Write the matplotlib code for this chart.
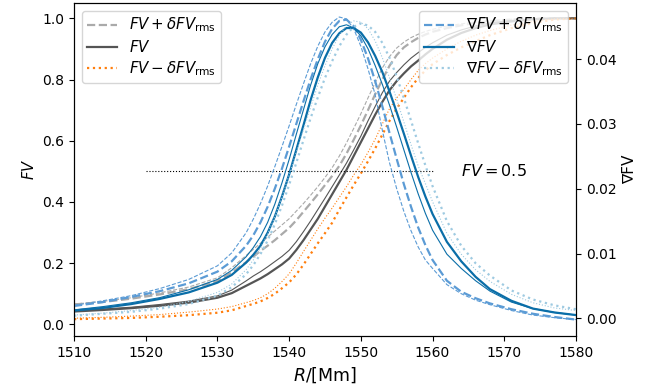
import matplotlib
matplotlib.use("Agg")
import matplotlib.pyplot as plt

# radius grid [Mm]
R = [1510, 1514, 1518, 1522, 1526, 1530, 1532, 1534, 1535, 1536, 1537, 1538, 1539, 1540,
     1541, 1542, 1543, 1544, 1545, 1546, 1547, 1548, 1549, 1550, 1551, 1552, 1553, 1554,
     1555, 1556, 1557, 1558, 1559, 1560, 1562, 1564, 1566, 1568, 1571, 1574, 1577, 1580]

# filling value: first set (thick lines)
fv = [.042, .047, .053, .061, .071, .087, .102, .126, .138, .150, .164, .180, .196, .215,
      .243, .275, .310, .345, .385, .425, .465, .505, .550, .595, .640, .685, .727, .765,
      .795, .820, .843, .862, .882, .900, .930, .952, .968, .980, .990, .997, 1.0, 1.0]
fv_hi = [.065, .073, .084, .098, .115, .142, .170, .203, .221, .240, .257, .275, .295, .315,
         .340, .368, .396, .425, .455, .485, .518, .558, .603, .650, .700, .752, .800, .845,
         .880, .905, .922, .936, .947, .956, .968, .977, .985, .991, .996, .999, 1.0, 1.0]
fv_lo = [.017, .019, .021, .025, .030, .038, .046, .060, .067, .075, .086, .100, .118, .137,
         .163, .195, .230, .265, .298, .332, .375, .415, .455, .493, .533, .575, .620, .665,
         .705, .740, .775, .805, .830, .850, .880, .905, .925, .945, .968, .985, .996, 1.0]
# filling value: second set (thin lines)
fv2 = [.045, .050, .056, .065, .076, .093, .112, .142, .158, .172, .188, .205, .222, .242,
       .270, .303, .338, .375, .412, .450, .488, .527, .570, .615, .665, .712, .757, .795,
       .823, .848, .870, .888, .905, .920, .945, .962, .975, .985, .993, .998, 1.0, 1.0]
fv2_hi = [.066, .075, .087, .103, .122, .152, .185, .225, .245, .265, .285, .305, .325, .345,
          .370, .395, .422, .450, .480, .512, .550, .593, .640, .688, .740, .790, .838, .875,
          .903, .922, .937, .948, .957, .964, .975, .982, .988, .992, .997, .999, 1.0, 1.0]
fv2_lo = [.020, .023, .027, .032, .040, .050, .058, .071, .078, .087, .100, .118, .140, .165,
          .200, .238, .275, .312, .347, .380, .415, .450, .488, .522, .562, .605, .655, .705,
          .740, .768, .800, .830, .852, .870, .900, .925, .945, .960, .978, .990, .998, 1.0]

# gradient of filling value: first set
grad = [.0012, .0016, .0022, .0030, .0040, .0055, .0067, .0086, .0098, .0112, .0132, .0157, .0188, .0222,
        .0260, .0298, .0337, .0372, .0402, .0425, .0440, .0448, .0448, .0441, .0426, .0405, .0380, .0350,
        .0318, .0285, .0251, .0218, .0188, .0161, .0118, .0088, .0064, .0045, .0027, .0015, .0009, .0005]
grad_hi = [.0019, .0025, .0033, .0042, .0054, .0072, .0088, .0112, .0128, .0148, .0172, .0200, .0231, .0265,
           .0300, .0335, .0369, .0400, .0427, .0447, .0459, .0461, .0451, .0430, .0401, .0366, .0327, .0286,
           .0246, .0207, .0172, .0140, .0113, .0090, .0058, .0041, .0031, .0023, .0014, .0007, .0002, -.0002]
grad_lo = [.0004, .0007, .0010, .0015, .0022, .0035, .0048, .0068, .0082, .0099, .0120, .0145, .0174, .0206,
           .0240, .0275, .0309, .0341, .0371, .0397, .0420, .0438, .0450, .0455, .0452, .0442, .0425, .0402,
           .0373, .0340, .0305, .0270, .0236, .0204, .0150, .0112, .0085, .0066, .0043, .0029, .0020, .0014]
# gradient of filling value: second set
grad2 = [.0013, .0018, .0024, .0032, .0044, .0060, .0074, .0095, .0109, .0126, .0148, .0176, .0209, .0245,
         .0284, .0322, .0360, .0393, .0419, .0438, .0450, .0453, .0448, .0436, .0416, .0390, .0361, .0329,
         .0295, .0260, .0225, .0192, .0162, .0136, .0099, .0077, .0058, .0042, .0025, .0015, .0009, .0005]
grad2_hi = [.0020, .0027, .0035, .0046, .0060, .0081, .0101, .0132, .0153, .0177, .0204, .0234, .0265, .0297,
            .0330, .0362, .0393, .0420, .0442, .0457, .0465, .0462, .0447, .0420, .0385, .0345, .0290, .0240,
            .0200, .0165, .0135, .0110, .0090, .0077, .0052, .0038, .0028, .0021, .0012, .0005, .0001, -.0002]
grad2_lo = [.0005, .0008, .0012, .0017, .0026, .0040, .0053, .0075, .0090, .0108, .0130, .0157, .0188, .0221,
            .0256, .0291, .0326, .0360, .0390, .0416, .0437, .0452, .0459, .0457, .0447, .0428, .0402, .0371,
            .0338, .0303, .0268, .0235, .0208, .0180, .0131, .0099, .0075, .0057, .0037, .0024, .0016, .0012]

level_x = [1520, 1560]
level = 0.5

C_GRAY_HI = "#aaaaaa"
C_GRAY = "#555555"
C_ORANGE = "#ff7f0e"
C_BLUE_HI = "#5b9bd5"
C_BLUE = "#0a6ea8"
C_BLUE_LO = "#9ecae1"

fig = plt.figure(figsize=(6.59, 3.87), dpi=100)
ax = fig.add_axes([0.1123, 0.1318, 0.7617, 0.8604])
ax2 = ax.twinx()

lw_thick, lw_thin = 1.6, 0.8

ax.plot(R, fv_hi, ls="--", color=C_GRAY_HI, lw=lw_thick, label=r"$FV + \delta FV_{\rm rms}$")
ax.plot(R, fv, ls="-", color=C_GRAY, lw=lw_thick, label=r"$FV$")
ax.plot(R, fv_lo, ls=":", color=C_ORANGE, lw=lw_thick, label=r"$FV - \delta FV_{\rm rms}$")
ax.plot(R, fv2_hi, ls="--", color=C_GRAY_HI, lw=lw_thin)
ax.plot(R, fv2, ls="-", color=C_GRAY, lw=lw_thin)
ax.plot(R, fv2_lo, ls=":", color=C_ORANGE, lw=lw_thin)
ax.hlines(level, level_x[0], level_x[1], colors="k", linestyles=":", lw=0.8)
ax.text(1564, level, r"$FV = 0.5$", va="center", ha="left", fontsize=11.5)

ax2.plot(R, grad_hi, ls="--", color=C_BLUE_HI, lw=lw_thick, label=r"$\nabla FV + \delta FV_{\rm rms}$")
ax2.plot(R, grad, ls="-", color=C_BLUE, lw=lw_thick, label=r"$\nabla FV$")
ax2.plot(R, grad_lo, ls=":", color=C_BLUE_LO, lw=lw_thick, label=r"$\nabla FV - \delta FV_{\rm rms}$")
ax2.plot(R, grad2_hi, ls="--", color=C_BLUE_HI, lw=lw_thin)
ax2.plot(R, grad2, ls="-", color=C_BLUE, lw=lw_thin)
ax2.plot(R, grad2_lo, ls=":", color=C_BLUE_LO, lw=lw_thin)

ax.set_xlim(1510, 1580)
ax.set_ylim(-0.038, 1.05)
ax2.set_ylim(-0.00273, 0.04866)
ax2.set_yticks([0.0, 0.01, 0.02, 0.03, 0.04])

ax.set_xlabel(r"$R/[\rm Mm]$", fontsize=12.5)
ax.set_ylabel(r"$FV$", fontsize=10.5)
ax2.set_ylabel("∇FV", fontsize=11)

leg_kw = dict(fontsize=10.8, labelspacing=0.3, borderpad=0.35)
ax.legend(loc="upper left", **leg_kw)
ax2.legend(loc="upper right", **leg_kw)

fig.savefig("out.png", dpi=100)
